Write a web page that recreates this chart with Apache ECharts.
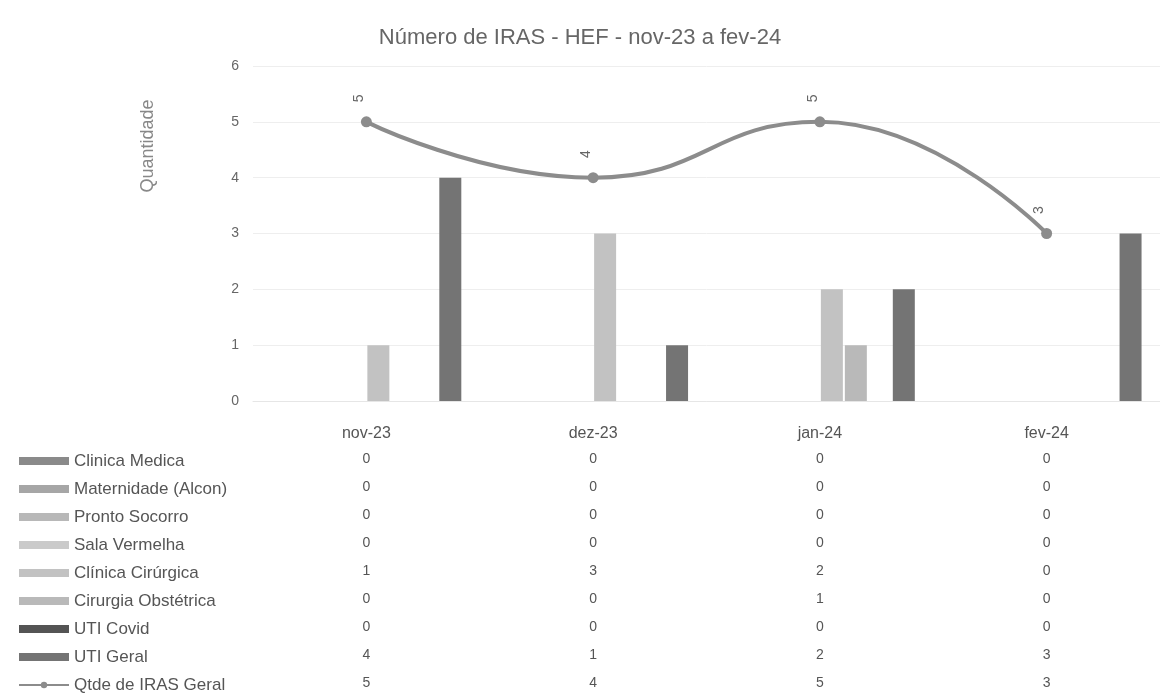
<!DOCTYPE html>
<html>
<head>
<meta charset="utf-8">
<script src="https://cdn.jsdelivr.net/npm/echarts@6/dist/echarts.min.js"></script>
<style>
html,body{margin:0;padding:0;background:#fff;}
#c{width:1160px;height:697px;}
</style>
</head>
<body>
<div id="c"></div>
<script>
const categories = ['nov-23', 'dez-23', 'jan-24', 'fev-24'];
const clinicaMedica = [0, 0, 0, 0];
const maternidade = [0, 0, 0, 0];
const prontoSocorro = [0, 0, 0, 0];
const salaVermelha = [0, 0, 0, 0];
const clinicaCirurgica = [1, 3, 2, 0];
const cirurgiaObstetrica = [0, 0, 1, 0];
const utiCovid = [0, 0, 0, 0];
const utiGeral = [4, 1, 2, 3];
const qtdeGeral = [5, 4, 5, 3];
const yTicks = [0, 1, 2, 3, 4, 5, 6];

const barSeriesDefs = [
  ['Clinica Medica', clinicaMedica, '#8a8a8a'],
  ['Maternidade (Alcon)', maternidade, '#a6a6a6'],
  ['Pronto Socorro', prontoSocorro, '#b8b8b8'],
  ['Sala Vermelha', salaVermelha, '#cacaca'],
  ['Clínica Cirúrgica', clinicaCirurgica, '#c2c2c2'],
  ['Cirurgia Obstétrica', cirurgiaObstetrica, '#b9b9b9'],
  ['UTI Covid', utiCovid, '#545454'],
  ['UTI Geral', utiGeral, '#747474']
];
const lineName = 'Qtde de IRAS Geral';
const allRows = barSeriesDefs.map(d => d[1]).concat([qtdeGeral]);

const chart = echarts.init(document.getElementById('c'), null, {renderer: 'canvas'});

const series = barSeriesDefs.map(d => ({
  name: d[0], type: 'bar', data: d[1],
  barWidth: 22, barGap: '9%',
  itemStyle: {color: d[2]}
}));
series.push({
  name: lineName, type: 'line', data: qtdeGeral, smooth: true,
  symbol: 'circle', symbolSize: 11,
  lineStyle: {width: 4, color: '#8c8c8c'},
  itemStyle: {color: '#8c8c8c'},
  label: {show: true, position: 'top', rotate: 90, distance: 18, color: '#666', fontSize: 14, fontFamily: 'Liberation Sans'},
  z: 5
});

chart.setOption({
  backgroundColor: '#fff',
  animation: false,
  textStyle: {fontFamily: 'Liberation Sans'},
  title: {
    text: 'Número de IRAS - HEF - nov-23 a fev-24',
    left: 'center', top: 22,
    textStyle: {fontSize: 22, fontWeight: 'normal', color: '#666', fontFamily: 'Liberation Sans'}
  },
  graphic: [{
    type: 'text', x: 148, y: 146, rotation: Math.PI / 2,
    style: {text: 'Quantidade', fill: '#888', fontSize: 18, fontFamily: 'Liberation Sans', align: 'center', verticalAlign: 'middle'}
  }],
  legend: {
    orient: 'vertical', left: 18, top: 452, padding: 0,
    itemWidth: 50, itemHeight: 8, itemGap: 10,
    data: barSeriesDefs.map(d => ({name: d[0], icon: 'rect'})).concat([{name: lineName}]),
    textStyle: {fontSize: 17, color: '#555', lineHeight: 18},
    selectedMode: false
  },
  grid: {left: 253, width: 915, top: 66, bottom: 296, containLabel: false},
  xAxis: {
    type: 'category', data: categories,
    axisLine: {show: true, lineStyle: {color: '#e6e6e6'}},
    axisTick: {show: false},
    splitLine: {show: false},
    axisLabel: {
      margin: 22,
      formatter: function (v, idx) {
        let s = '{h|' + v + '}';
        allRows.forEach(r => { s += '\n{v|' + r[idx] + '}'; });
        return s;
      },
      rich: {
        h: {fontSize: 16, color: '#555', lineHeight: 22, fontFamily: 'Liberation Sans'},
        v: {fontSize: 14, color: '#555', lineHeight: 28, fontFamily: 'Liberation Sans'}
      }
    }
  },
  yAxis: {
    type: 'value', min: 0, max: 6, interval: 1,
    axisLine: {show: false}, axisTick: {show: false},
    axisLabel: {margin: 14, fontSize: 14, color: '#666', formatter: v => yTicks.includes(v) ? String(v) : ''},
    splitLine: {lineStyle: {color: '#eeeeee', width: 1}}
  },
  series: series
});
</script>
</body>
</html>
